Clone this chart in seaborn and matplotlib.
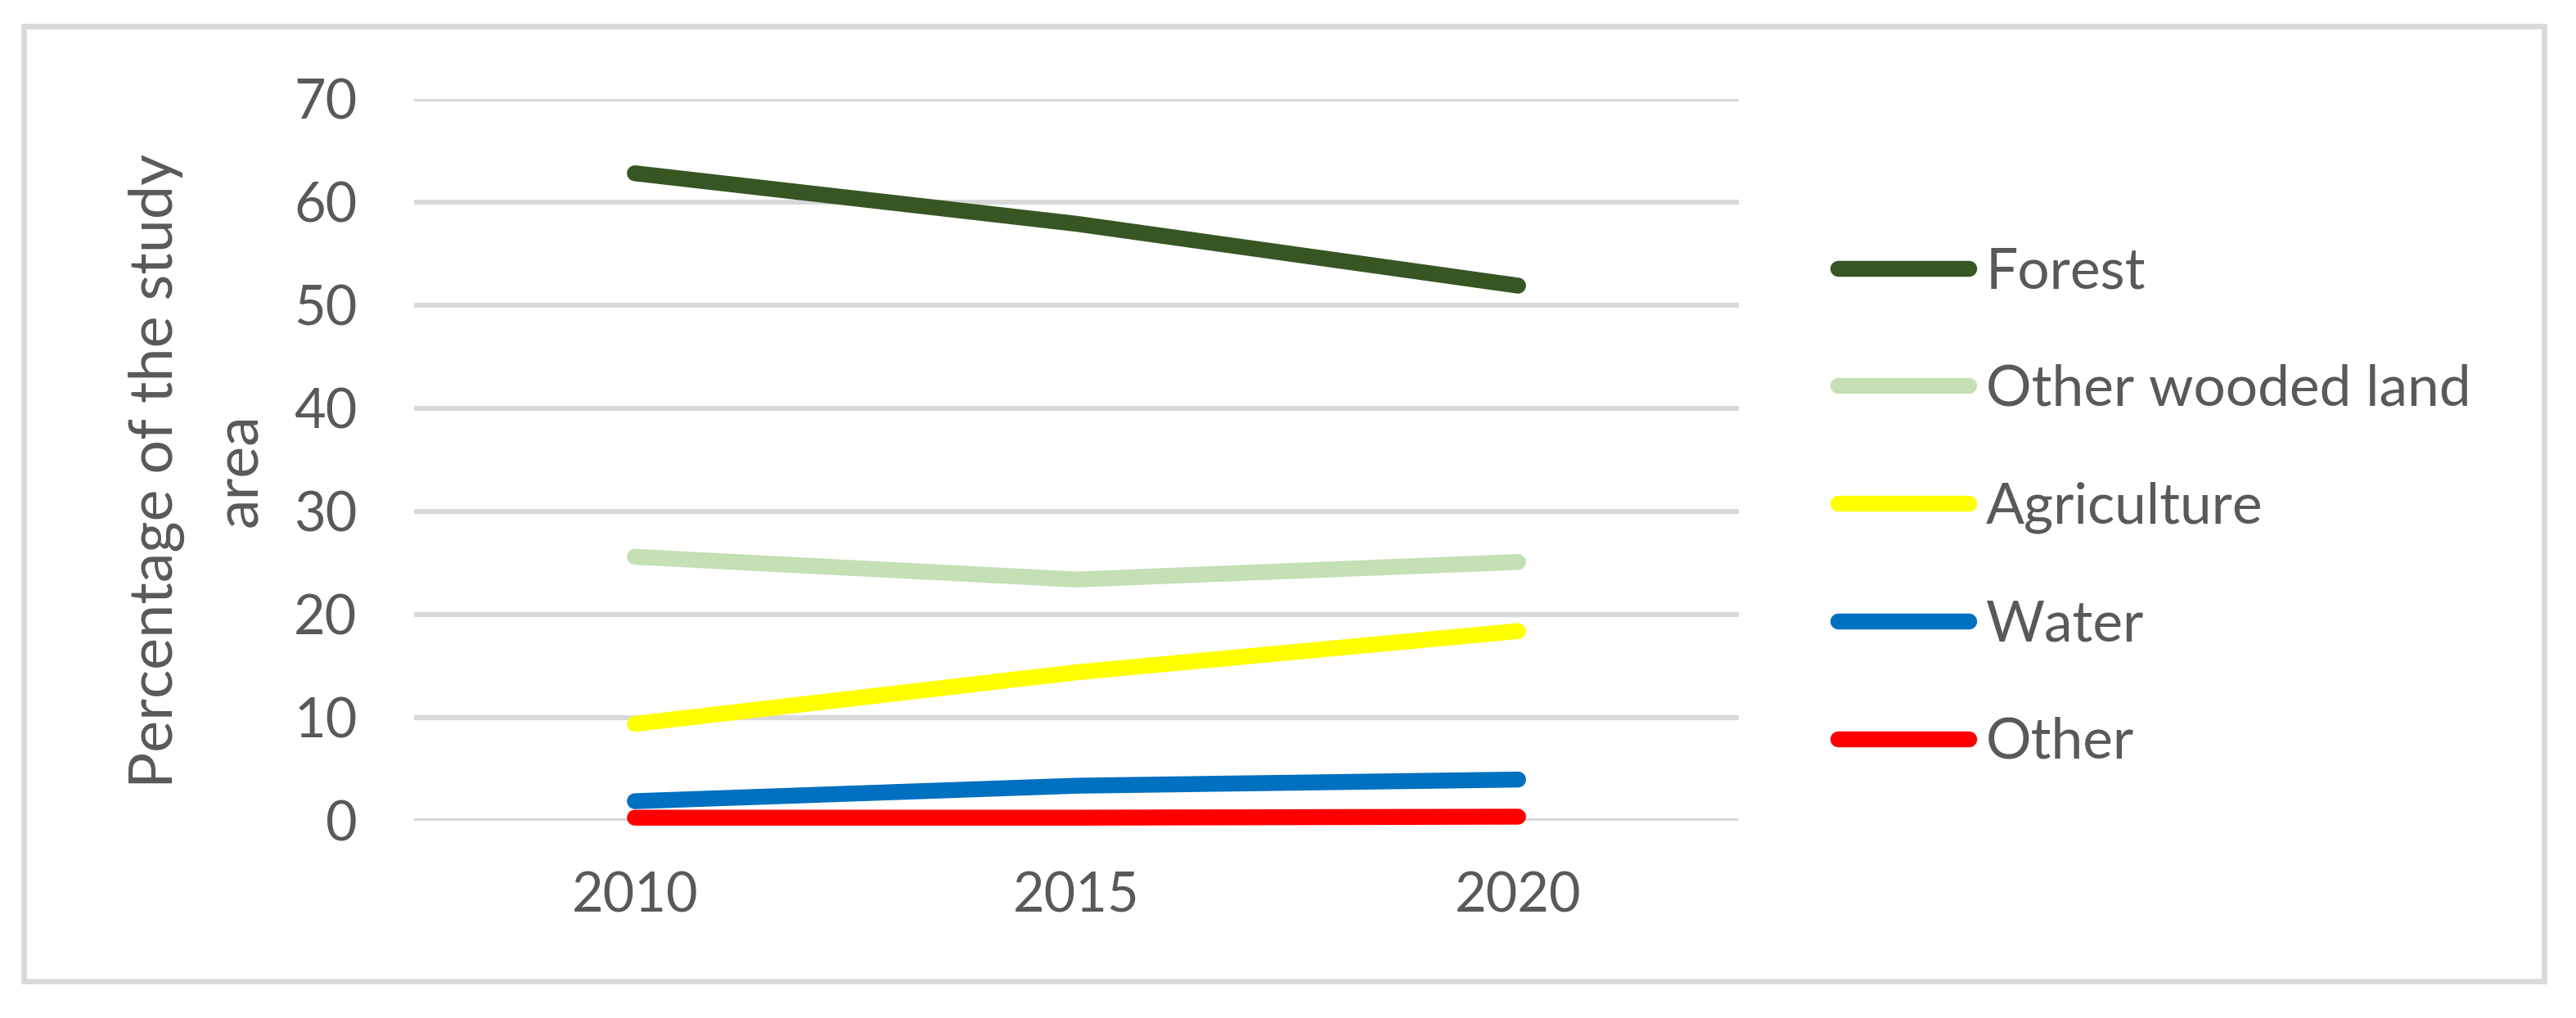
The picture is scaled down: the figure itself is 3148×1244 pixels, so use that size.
import pandas as pd
import seaborn as sns
import matplotlib.pyplot as plt
from matplotlib.patches import Rectangle

years = ["2010", "2015", "2020"]
covers = ["Forest", "Other wooded land", "Agriculture", "Water", "Other"]
forest = [62.8, 57.9, 51.9]
wooded = [25.6, 23.4, 25.1]
agriculture = [9.4, 14.4, 18.4]
water = [1.9, 3.4, 4.0]
other = [0.3, 0.3, 0.4]
colors = ["#375623", "#C5E0B4", "#FFFF00", "#0070C0", "#FF0000"]

rows = []
for name, vals in zip(covers, [forest, wooded, agriculture, water, other]):
    for y, v in zip(years, vals):
        rows.append({"year": y, "cover": name, "value": v})
df = pd.DataFrame(rows)

sns.set_style("white")
plt.rcParams['font.family'] = ['Lato', 'DejaVu Sans']
grey = "#595959"

fig = plt.figure(figsize=(15.74, 6.22), dpi=200)
W, H = 3148, 1244
ax = fig.add_axes([506 / W, 1 - 1003 / H, (2125 - 506) / W, (1003 - 121) / H])

sns.lineplot(data=df, x="year", y="value", hue="cover", hue_order=covers,
             palette=colors, linewidth=7.0, solid_capstyle="round",
             legend=False, ax=ax, clip_on=False, zorder=3)

ax.set_xlim(-0.5, 2.5)
ax.set_ylim(0, 70)
ax.set_yticks(range(0, 71, 10))
ax.grid(axis="y", color="#D9D9D9", linewidth=2.2)
ax.set_axisbelow(True)
for s in ax.spines.values():
    s.set_visible(False)
ax.tick_params(axis="both", length=0, labelsize=24, labelcolor=grey)
ax.tick_params(axis="x", pad=22)
ax.tick_params(axis="y", pad=25)
ax.set_xlabel("")
ax.set_ylabel("")

fig.text(242 / W, 1 - 575 / H, "Percentage of the study\narea", rotation=90,
         ha="center", va="center", multialignment="center",
         fontsize=26.5, color=grey, linespacing=1.64)

handles = ax.lines[:len(covers)]
leg = fig.legend(handles, covers, loc="center left",
                 bbox_to_anchor=(2246 / W, 1 - 620 / H), frameon=False,
                 fontsize=25, handlelength=2.3, handletextpad=0.3,
                 labelspacing=1.16, borderpad=0, borderaxespad=0)
for t in leg.get_texts():
    t.set_color(grey)
for l in leg.get_lines():
    l.set_linewidth(7.0)
    l.set_solid_capstyle("round")

fig.patches.append(Rectangle((28.5 / W, 1 - 1199 / H), (3108.5 - 28.5) / W,
                             (1199 - 32) / H, transform=fig.transFigure,
                             fill=False, edgecolor="#D9D9D9", linewidth=2.4))

fig.savefig("out.png", dpi=200, facecolor="white")
